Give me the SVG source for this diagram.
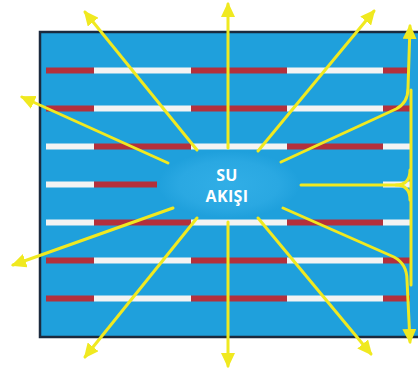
<svg xmlns="http://www.w3.org/2000/svg" width="418" height="372" viewBox="0 0 418 372">
<style>
.r{fill:#b3303c}
.w{fill:#f3f3f3}
.a{fill:none;stroke:#f0e920;stroke-width:3;stroke-linecap:round;stroke-linejoin:round}
.ah{marker-end:url(#head)}
.t{font-family:"Open Sans","Liberation Sans",sans-serif;font-weight:bold;font-size:16px;letter-spacing:0.4px;fill:#ffffff;text-anchor:middle}
</style>
<defs>
<marker id="head" markerUnits="userSpaceOnUse" markerWidth="15" markerHeight="14" refX="13" refY="7" orient="auto">
<path d="M0,0 L15,7 L0,14 z" fill="#f0e920"/>
</marker>
<radialGradient id="glow" cx="0.5" cy="0.5" r="0.5">
<stop offset="0" stop-color="#31aee6"/>
<stop offset="0.7" stop-color="#2aa8e2"/>
<stop offset="1" stop-color="#1fa0dc"/>
</radialGradient>
</defs>
<rect width="418" height="372" fill="#ffffff"/>
<g id="pool">
<rect x="40" y="32" width="400" height="305" fill="#1fa0dc" stroke="#1b2a3e" stroke-width="2.5"/>
</g>
<g id="lanes">
<rect class="r" x="46" y="67.5" width="48" height="6"/><rect class="w" x="94" y="67.5" width="97" height="6"/><rect class="r" x="191" y="67.5" width="96" height="6"/><rect class="w" x="287" y="67.5" width="96" height="6"/><rect class="r" x="383" y="67.5" width="27" height="6"/>
<rect class="r" x="46" y="105.5" width="48" height="6"/><rect class="w" x="94" y="105.5" width="97" height="6"/><rect class="r" x="191" y="105.5" width="96" height="6"/><rect class="w" x="287" y="105.5" width="96" height="6"/><rect class="r" x="383" y="105.5" width="27" height="6"/>
<rect class="w" x="46" y="143.5" width="48" height="6"/><rect class="r" x="94" y="143.5" width="97" height="6"/><rect class="w" x="191" y="143.5" width="96" height="6"/><rect class="r" x="287" y="143.5" width="96" height="6"/><rect class="w" x="383" y="143.5" width="27" height="6"/>
<rect class="w" x="46" y="181.5" width="48" height="6"/><rect class="r" x="94" y="181.5" width="63" height="6"/><rect class="w" x="383" y="181.5" width="27" height="6"/>
<rect class="w" x="46" y="219.5" width="48" height="6"/><rect class="r" x="94" y="219.5" width="97" height="6"/><rect class="w" x="191" y="219.5" width="96" height="6"/><rect class="r" x="287" y="219.5" width="96" height="6"/><rect class="w" x="383" y="219.5" width="27" height="6"/>
<rect class="r" x="46" y="257.5" width="48" height="6"/><rect class="w" x="94" y="257.5" width="97" height="6"/><rect class="r" x="191" y="257.5" width="96" height="6"/><rect class="w" x="287" y="257.5" width="96" height="6"/><rect class="r" x="383" y="257.5" width="27" height="6"/>
<rect class="r" x="46" y="295.5" width="48" height="6"/><rect class="w" x="94" y="295.5" width="97" height="6"/><rect class="r" x="191" y="295.5" width="96" height="6"/><rect class="w" x="287" y="295.5" width="96" height="6"/><rect class="r" x="383" y="295.5" width="27" height="6"/>
</g>
<g id="source">
<rect x="158" y="151" width="142" height="67" rx="26" fill="url(#glow)"/>
<text class="t" x="227" y="181">SU</text>
<text class="t" x="227" y="202">AKIŞI</text>
</g>
<g id="connectors">
<path class="a ah" d="M197,150 L85,12"/>
<path class="a ah" d="M168,163 L22,97"/>
<path class="a ah" d="M228,148 L228,4"/>
<path class="a ah" d="M258,151 L374,11"/>
<path class="a ah" d="M281,162 L396,109 Q408,103 408,88 L410,26"/>
<path class="a" d="M411,90 L411,285"/>
<path class="a" d="M301,185 L396,185 Q410,185 410,170"/>
<path class="a" d="M396,185 Q410,185 410,200"/>
<path class="a ah" d="M283,208 L394,257 Q407,264 407,280 L410,342"/>
<path class="a ah" d="M258,218 L371,354"/>
<path class="a ah" d="M228,222 L228,366"/>
<path class="a ah" d="M197,218 L85,357"/>
<path class="a ah" d="M173,208 L13,265"/>
</g>
</svg>
